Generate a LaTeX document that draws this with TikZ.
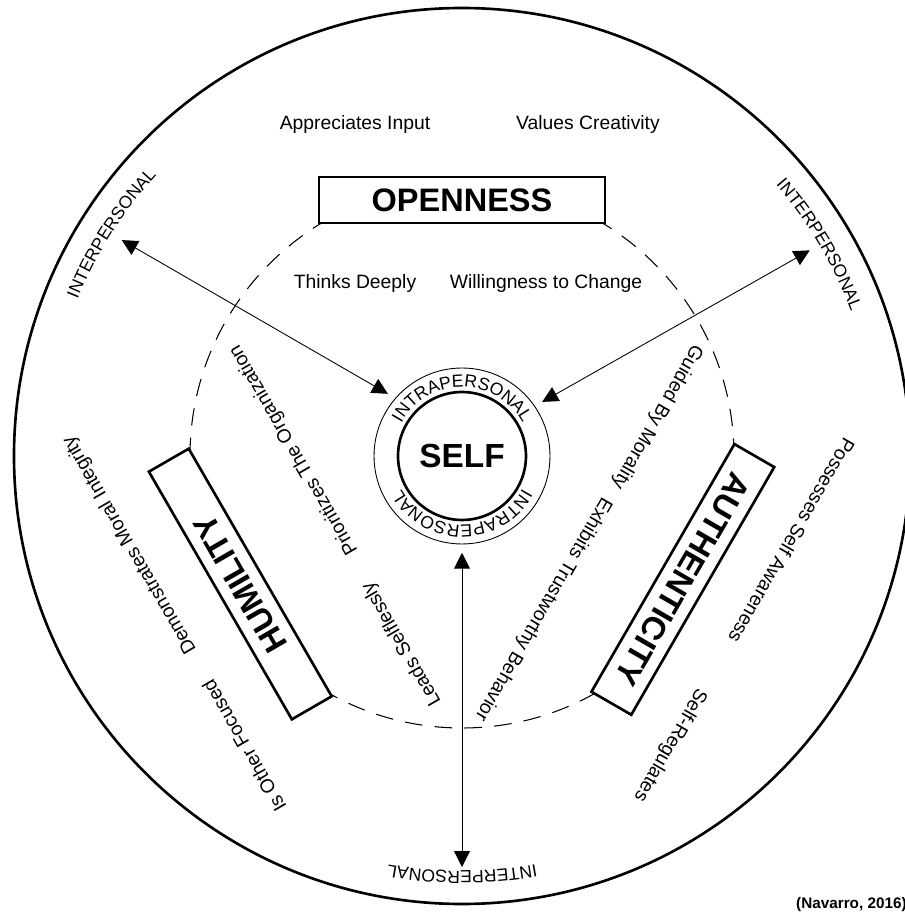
\documentclass[tikz,border=0pt]{standalone}
\usepackage{fontspec}
\setmainfont{Liberation Sans}
\usepackage{tikz}
\usetikzlibrary{arrows.meta}
\usetikzlibrary{decorations.text}

\begin{document}
\begin{tikzpicture}[x=0.02cm, y=0.02cm]%%three virtues round the self
                \tikzstyle{trait}  = [font=\fontsize{11}{13}\selectfont, inner sep=0pt]
                \tikzstyle{virtue} = [draw, line width=1.5pt, fill=white, minimum width=5.72cm, minimum height=0.92cm, inner sep=0pt, font=\fontsize{18.5}{22}\selectfont\bfseries]
                \tikzstyle{link}   = [{Triangle[length=9pt,width=9pt]}-{Triangle[length=9pt,width=9pt]}, line width=0.5pt]
                \useasboundingbox (-462,-466) rectangle (442,456);

                \draw [line width=1.5pt] (0,0) circle [radius=448];
                \draw [line width=0.6pt, dash pattern=on 10pt off 7pt] (0,0) circle [radius=272];

                \node [circle, draw, line width=0.5pt, minimum size=3.52cm, outer sep=5pt](ring) at (0,0) {};
                \node [circle, draw, line width=1.5pt, minimum size=2.56cm, inner sep=0pt, font=\fontsize{19}{22}\selectfont\bfseries](self) at (0,0) {SELF};

                \coordinate (il) at (147.6:403);
                \coordinate (ir) at (30.6:404);
                \coordinate (ib) at (270:411);
                \draw [link] (ring.140)--(il);
                \draw [link] (ring.34)--(ir);
                \draw [link] (ring.270)--(ib);

                \node [virtue](open) at (90:256) {OPENNESS};
                \node [virtue, rotate=120](humb) at (210:256) {HUMILITY};
                \node [virtue, rotate=-120](auth) at (330.8:253) {AUTHENTICITY};

                \node [trait](apin) at (-107,331) {Appreciates Input};
                \node [trait](vacr) at (126,331) {Values Creativity};
                \node [trait](thde) at (-107,172) {Thinks Deeply};
                \node [trait](wich) at (84,172) {Willingness to Change};

                \node [trait, rotate=120](prio) at (-168,6) {Prioritizes The Organization};
                \node [trait, rotate=120](lese) at (-60,-188) {Leads Selflessly};
                \node [trait, rotate=120](demi) at (-332,-89) {Demonstrates Moral Integrity};
                \node [trait, rotate=120](otfo) at (-218,-290) {Is Other Focused};

                \node [trait, rotate=-120](gumo) at (195,39) {Guided By Morality};
                \node [trait, rotate=-120](extb) at (81,-153) {Exhibits Trustworthy Behavior};
                \node [trait, rotate=-120](psaw) at (330,-85) {Possesses Self Awareness};
                \node [trait, rotate=-120](sere) at (208,-289) {Self-Regulates};

                \foreach \m in {147.6,30.6,270}{
                        \path [decorate, decoration={text along path, text align=center, text={|\fontsize{10}{12}\selectfont|INTERPERSONAL}}] ({\m+15}:415) arc [start angle=\m+15, end angle=\m-15, radius=415];
                }
                \path [decorate, decoration={text along path, text align=center, text={|\fontsize{10}{12}\selectfont|INTRAPERSONAL}}] (155:69) arc [start angle=155, end angle=25, radius=69];
                \path [decorate, decoration={text along path, text align=center, text={|\fontsize{10}{12}\selectfont|INTRAPERSONAL}}] (335:69) arc [start angle=335, end angle=205, radius=69];

                \node [anchor=east, inner sep=0pt, font=\fontsize{8.7}{10}\selectfont\bfseries](cite) at (445,-449) {(Navarro, 2016)};
\end{tikzpicture}
\end{document}
